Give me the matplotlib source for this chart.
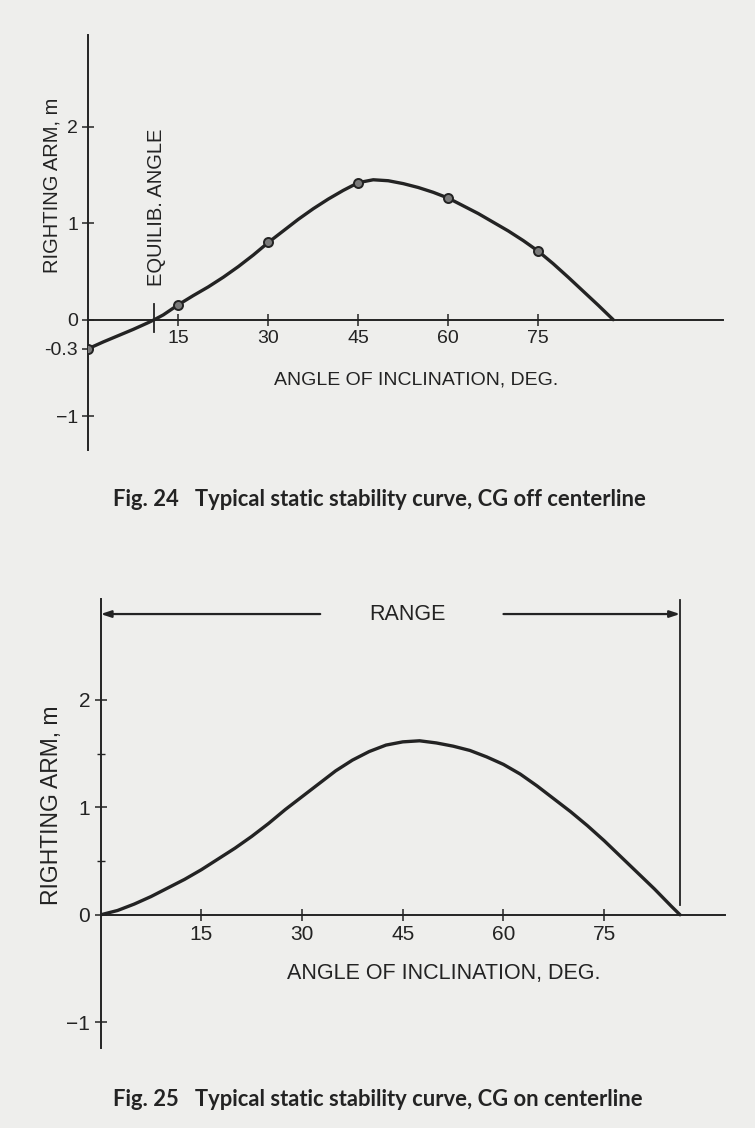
import matplotlib
matplotlib.use("Agg")
import matplotlib.pyplot as plt

# ---------------- data ----------------
# Fig. 24 : CG off centerline
angles1 = [0, 2.5, 5, 7.5, 10, 11, 12.5, 15, 17.5, 20, 22.5, 25, 27.5, 30, 32.5, 35,
           37.5, 40, 42.5, 45, 47.5, 50, 52.5, 55, 57.5, 60, 62.5, 65, 67.5, 70,
           72.5, 75, 77.5, 80, 82.5, 85, 87.5]
arm1 = [-0.30, -0.23, -0.165, -0.10, -0.03, 0.0, 0.05, 0.155, 0.25, 0.34, 0.44, 0.55,
        0.67, 0.80, 0.92, 1.04, 1.15, 1.25, 1.34, 1.42, 1.45, 1.44, 1.41, 1.37, 1.32,
        1.26, 1.18, 1.10, 1.01, 0.92, 0.82, 0.71, 0.58, 0.44, 0.295, 0.15, 0.0]
marker_angles1 = [0, 15, 30, 45, 60, 75]
marker_arm1 = [-0.30, 0.155, 0.80, 1.42, 1.26, 0.71]
equilib_angle = 11
yticks1 = [2, 1, 0, -0.3, -1]
yticklabels1 = ["2", "1", "0", "-0.3", "\u22121"]

# Fig. 25 : CG on centerline
angles2 = [0, 2.5, 5, 7.5, 10, 12.5, 15, 17.5, 20, 22.5, 25, 27.5, 30, 32.5, 35, 37.5,
           40, 42.5, 45, 47.5, 50, 52.5, 55, 57.5, 60, 62.5, 65, 67.5, 70, 72.5, 75,
           77.5, 80, 82.5, 85, 86.3]
arm2 = [0.0, 0.04, 0.10, 0.17, 0.25, 0.33, 0.42, 0.52, 0.62, 0.73, 0.85, 0.98, 1.10,
        1.22, 1.34, 1.44, 1.52, 1.58, 1.61, 1.62, 1.60, 1.57, 1.53, 1.47, 1.40, 1.31,
        1.20, 1.08, 0.96, 0.83, 0.69, 0.54, 0.39, 0.24, 0.08, 0.0]
range_end = 86.3
yticks2 = [2, 1, 0, -1]
yticklabels2 = ["2", "1", "0", "\u22121"]

xticks = [15, 30, 45, 60, 75]
xticklabels = ["15", "30", "45", "60", "75"]

caption1 = "Fig. 24   Typical static stability curve, CG off centerline"
caption2 = "Fig. 25   Typical static stability curve, CG on centerline"

# ---------------- style ----------------
W, H = 755, 1128
BG = "#eeeeec"
INK = "#232323"
FONT = "Liberation Sans"
plt.rcParams["font.family"] = [FONT, "DejaVu Sans"]

fig = plt.figure(figsize=(W / 100, H / 100), dpi=100, facecolor=BG)


def px_rect(x0, y0, x1, y1):
    return [x0 / W, 1 - y1 / H, (x1 - x0) / W, (y1 - y0) / H]


def ftext(x, y, s, **kw):
    fig.text(x / W, 1 - y / H, s, color=INK, **kw)


def style_axes(ax, size):
    ax.set_facecolor("none")
    for s in ("top", "right"):
        ax.spines[s].set_visible(False)
    ax.spines["bottom"].set_position(("data", 0))
    for s in ("left", "bottom"):
        ax.spines[s].set_linewidth(1.4)
        ax.spines[s].set_color(INK)
    ax.tick_params(axis="both", which="major", direction="inout", length=9,
                   width=1.1, colors=INK, labelsize=size, pad=3)
    ax.tick_params(axis="both", which="minor", direction="inout", length=6,
                   width=1.0, colors=INK)


# ---------------- Fig. 24 ----------------
ax1 = fig.add_axes(px_rect(88.3, 35, 723, 450))
ax1.set_xlim(0, 105.8)
ax1.set_ylim(-1.35, 2.95)
style_axes(ax1, 14)
ax1.set_xticks(xticks)
ax1.set_xticklabels(xticklabels)
ax1.set_yticks(yticks1)
ax1.set_yticklabels(yticklabels1)
ax1.plot(angles1, arm1, color=INK, lw=2.4, solid_capstyle="round", zorder=3)
ax1.plot(marker_angles1, marker_arm1, ls="none", marker="o", ms=6.5,
         mfc="#7a7a7a", mec=INK, mew=1.4, zorder=4)
ax1.plot([equilib_angle, equilib_angle], [-0.13, 0.16], color=INK, lw=1.3, zorder=3)

ftext(52, 185, "RIGHTING ARM, m", rotation=90, ha="center", va="center", fontsize=14.5)
ftext(157, 207, "EQUILIB. ANGLE", rotation=90, ha="center", va="center", fontsize=14.5)
ftext(416, 380, "ANGLE OF INCLINATION, DEG.", ha="center", va="center", fontsize=14)
ftext(113, 500, caption1, ha="left", va="center", fontsize=15.8,
      family=["Lato", "DejaVu Sans"], fontweight="bold")

# ---------------- Fig. 25 ----------------
ax2 = fig.add_axes(px_rect(100.7, 599, 725, 1048))
ax2.set_xlim(0, 93)
ax2.set_ylim(-1.24, 2.94)
style_axes(ax2, 15)
ax2.set_xticks(xticks)
ax2.set_xticklabels(xticklabels)
ax2.set_yticks(yticks2)
ax2.set_yticklabels(yticklabels2)
ax2.set_yticks([0.5, 1.5], minor=True)
ax2.plot(angles2, arm2, color=INK, lw=2.4, solid_capstyle="round", zorder=3)

# range annotation
ax2.plot([range_end, range_end], [0.09, 2.93], color=INK, lw=1.3)
ax2.annotate("", xy=(0, 2.8), xytext=(32.7, 2.8),
             arrowprops=dict(arrowstyle="-|>,head_length=0.6,head_width=0.2",
                             color=INK, lw=1.6, shrinkA=0, shrinkB=0))
ax2.annotate("", xy=(range_end, 2.8), xytext=(60.0, 2.8),
             arrowprops=dict(arrowstyle="-|>,head_length=0.6,head_width=0.2",
                             color=INK, lw=1.6, shrinkA=0, shrinkB=0))
ax2.text(45.7, 2.8, "RANGE", ha="center", va="center", fontsize=15.5, color=INK)

ftext(52, 805, "RIGHTING ARM, m", rotation=90, ha="center", va="center", fontsize=16.5)
ftext(444, 973, "ANGLE OF INCLINATION, DEG.", ha="center", va="center", fontsize=15.5)
ftext(113, 1100, caption2, ha="left", va="center", fontsize=15.8,
      family=["Lato", "DejaVu Sans"], fontweight="bold")

fig.savefig("out.png", dpi=100, facecolor=BG)
